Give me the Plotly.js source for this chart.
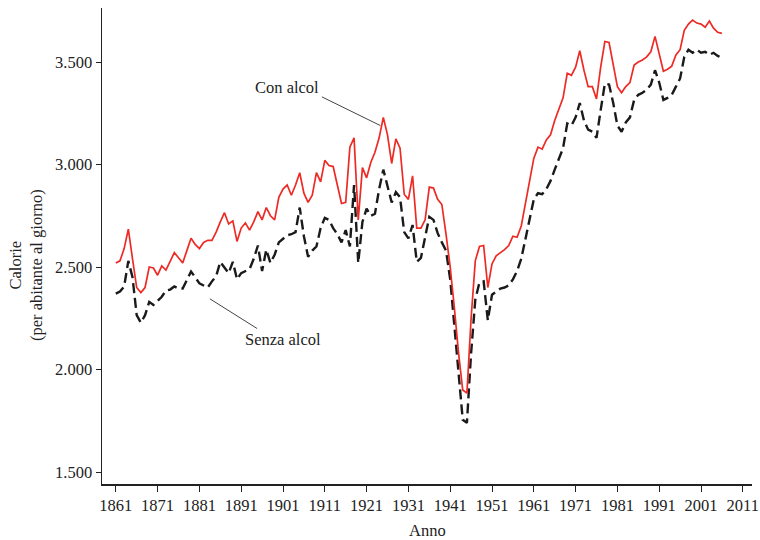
<!DOCTYPE html>
<html>
<head>
<meta charset="utf-8">
<script src="https://cdn.plot.ly/plotly-3.0.1.min.js"></script>
<style>html,body{margin:0;padding:0;background:#fff;}#chart{width:760px;height:540px;}</style>
</head>
<body>
<div id="chart"></div>
<script>
const firstYear = 1861;
const conAlcol = [
  2520, 2530, 2590, 2685, 2540, 2400, 2375, 2400, 2500, 2495,
  2460, 2505, 2485, 2530, 2570, 2545, 2520, 2580, 2640, 2610,
  2590, 2620, 2630, 2630, 2670, 2720, 2765, 2710, 2725, 2625,
  2690, 2715, 2680, 2720, 2770, 2730, 2790, 2750, 2730, 2840,
  2880, 2900, 2850, 2900, 2960, 2860, 2815, 2850, 2960, 2915,
  3020, 2995, 2990, 2900, 2810, 2815, 3085, 3130, 2730, 2985,
  2935, 3010, 3060, 3130, 3230, 3145, 3005, 3125, 3080, 2855,
  2830, 2945, 2690, 2690, 2730, 2890, 2885, 2830, 2805, 2660,
  2500, 2300, 2080, 1900, 1885, 2250, 2530, 2600, 2605, 2400,
  2515, 2555, 2570, 2585, 2605, 2650, 2645, 2700, 2810, 2930,
  3030, 3085, 3075, 3120, 3145, 3215, 3275, 3325, 3445, 3435,
  3475, 3555, 3460, 3380, 3380, 3320, 3475, 3600, 3595, 3495,
  3380, 3350, 3380, 3400, 3485, 3500, 3510, 3525, 3550, 3625,
  3545, 3455, 3465, 3480, 3535, 3560, 3655, 3685, 3705, 3690,
  3685, 3670, 3700, 3665, 3645, 3640
];
const senzaAlcol = [
  2370, 2380, 2405, 2530, 2450, 2265, 2228, 2265, 2330, 2315,
  2335, 2355, 2385, 2390, 2405, 2395, 2395, 2440, 2478, 2450,
  2420, 2410, 2400, 2430, 2455, 2525, 2500, 2470, 2525, 2440,
  2470, 2480, 2490, 2540, 2605, 2480, 2585, 2520, 2560, 2620,
  2640, 2655, 2660, 2670, 2790, 2650, 2550, 2580, 2600, 2690,
  2740, 2730, 2690, 2660, 2620, 2680, 2600, 2900, 2520, 2720,
  2785, 2750, 2760, 2880, 2975, 2900, 2815, 2865, 2840, 2670,
  2640, 2705, 2525, 2545, 2640, 2745, 2730, 2665, 2620, 2580,
  2440, 2200, 1980, 1755, 1740, 2080, 2340, 2425, 2430, 2240,
  2365, 2380, 2395, 2400, 2410, 2440, 2480, 2540, 2640, 2740,
  2830, 2860, 2855, 2880, 2920, 2975, 3030, 3080, 3200, 3190,
  3230, 3300, 3215, 3170, 3160, 3130, 3265, 3395, 3390, 3300,
  3190, 3160, 3205, 3230, 3315, 3340, 3350, 3365, 3390, 3460,
  3400, 3315, 3325, 3340, 3380, 3420, 3525, 3560, 3545, 3560,
  3545, 3550, 3535, 3545, 3530, 3520
];
const xTicks = [1861, 1871, 1881, 1891, 1901, 1911, 1921, 1931, 1941, 1951, 1961, 1971, 1981, 1991, 2001, 2011];
const yTicks = [1500, 2000, 2500, 3000, 3500];
const labels = {con: 'Con alcol', senza: 'Senza alcol', x: 'Anno', y: 'Calorie<br>(per abitante al giorno)'};

const yearsRed = conAlcol.map((_, i) => firstYear + i);
const yearsBlack = senzaAlcol.map((_, i) => firstYear + i);

const serif = 'Liberation Serif, DejaVu Serif, serif';

const traces = [
  {x: yearsBlack, y: senzaAlcol, type: 'scatter', mode: 'lines', name: labels.senza,
   line: {color: '#1a1a1a', width: 2.4, dash: '10px,5px'}},
  {x: yearsRed, y: conAlcol, type: 'scatter', mode: 'lines', name: labels.con,
   line: {color: '#ee2a24', width: 1.7}}
];

const layout = {
  width: 760, height: 540,
  margin: {l: 102, r: 8, t: 8, b: 56},
  paper_bgcolor: '#fff', plot_bgcolor: '#fff',
  showlegend: false,
  separators: ',.',
  font: {family: serif, size: 16.5, color: '#222'},
  xaxis: {
    range: [1857.7, 2013.2], tickvals: xTicks, ticktext: xTicks.map(String),
    showgrid: false, zeroline: false, showline: true, linecolor: '#222', linewidth: 1.5,
    ticks: 'outside', ticklen: 6, tickwidth: 1, tickcolor: '#222',
    tickfont: {family: serif, size: 16.5, color: '#222'}
  },
  yaxis: {
    range: [1441.5, 3763.5], tickvals: yTicks, tickformat: ',d',
    showgrid: false, zeroline: false, showline: true, linecolor: '#222', linewidth: 1.5,
    ticks: 'outside', ticklen: 5, tickwidth: 1, tickcolor: '#222',
    tickfont: {family: serif, size: 16.5, color: '#222'}
  },
  shapes: [
    {type: 'line', xref: 'x', yref: 'y', x0: 1910.3, y0: 3330, x1: 1924.3, y1: 3190,
     line: {color: '#444', width: 1}},
    {type: 'line', xref: 'x', yref: 'y', x0: 1883.5, y0: 2345, x1: 1894.8, y1: 2200,
     line: {color: '#444', width: 1}}
  ],
  annotations: [
    {xref: 'x', yref: 'y', x: 1902.0, y: 3378, text: labels.con, showarrow: false,
     font: {family: serif, size: 16.5, color: '#222'}},
    {xref: 'x', yref: 'y', x: 1901, y: 2148, text: labels.senza, showarrow: false,
     font: {family: serif, size: 16.5, color: '#222'}},
    {xref: 'paper', yref: 'paper', x: 0.5015, y: -0.097, text: labels.x, showarrow: false,
     xanchor: 'center', yanchor: 'middle', font: {family: serif, size: 16.5, color: '#222'}},
    {xref: 'paper', yref: 'paper', x: -0.117, y: 0.46, text: labels.y, showarrow: false,
     textangle: -90, xanchor: 'center', yanchor: 'middle',
     font: {family: serif, size: 16.5, color: '#222'}}
  ]
};

Plotly.newPlot('chart', traces, layout, {displayModeBar: false, staticPlot: true});
</script>
</body>
</html>
